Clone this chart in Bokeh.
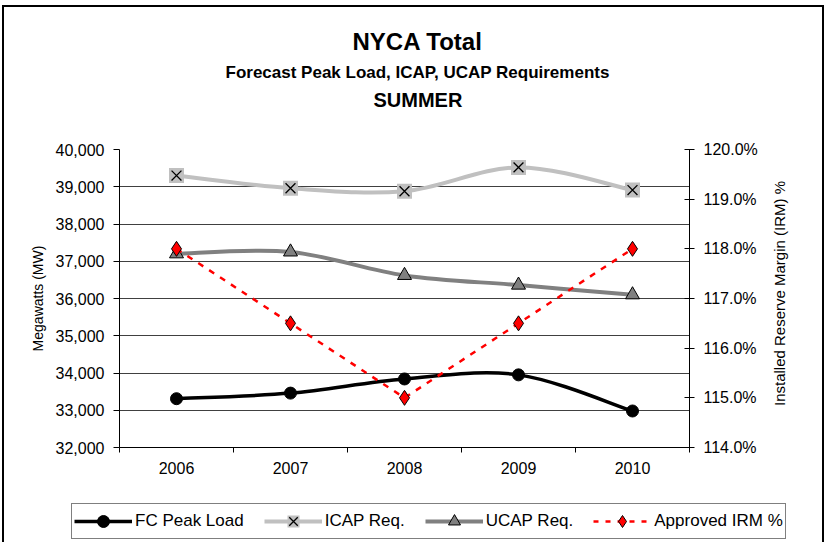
import math
from bokeh.plotting import figure
from bokeh.layouts import column, row
from bokeh.models import (Range1d, LinearAxis, FixedTicker, NumeralTickFormatter,
                          PrintfTickFormatter, Legend, LegendItem, Title, Label, ColumnDataSource)
from bokeh.embed import file_html
from bokeh.resources import INLINE

# ---- data ----
years = [2006, 2007, 2008, 2009, 2010]
fc_peak_load = [33310, 33460, 33840, 33950, 32980]
icap_req = [39300, 38960, 38880, 39520, 38910]
ucap_req = [37200, 37250, 36620, 36360, 36100]
approved_irm = [118.0, 116.5, 115.0, 116.5, 118.0]
mw_ticks = [32000, 33000, 34000, 35000, 36000, 37000, 38000, 39000, 40000]
irm_ticks = [114, 115, 116, 117, 118, 119, 120]
year_bounds = [2005.5, 2006.5, 2007.5, 2008.5, 2009.5, 2010.5]

title_main = "NYCA Total"
title_sub = "Forecast Peak Load, ICAP, UCAP Requirements"
title_season = "SUMMER"
series_names = ["FC Peak Load", "ICAP Req.", "UCAP Req.", "Approved IRM %"]
left_label = "Megawatts (MW)"
right_label = "Installed Reserve Margin (IRM) %"

FONT = "Liberation Sans"
ICAP_C = "#C0C0C0"
UCAP_C = "#808080"


def smooth_segments(xs, ys):
    """Bezier control points (Catmull-Rom style) like a spreadsheet 'smoothed line'."""
    n = len(xs)
    d = dict(x0=[], y0=[], x1=[], y1=[], cx0=[], cy0=[], cx1=[], cy1=[])
    for i in range(n - 1):
        a = i - 1 if i > 0 else i
        b = i + 2 if i + 2 < n else i + 1
        d["x0"].append(xs[i]); d["y0"].append(ys[i])
        d["x1"].append(xs[i + 1]); d["y1"].append(ys[i + 1])
        d["cx0"].append(xs[i] + (xs[i + 1] - xs[a]) / 6.0)
        d["cy0"].append(ys[i] + (ys[i + 1] - ys[a]) / 6.0)
        d["cx1"].append(xs[i + 1] - (xs[b] - xs[i]) / 6.0)
        d["cy1"].append(ys[i + 1] - (ys[b] - ys[i]) / 6.0)
    return ColumnDataSource(d)


p = figure(width=760, height=482, output_backend="svg", toolbar_location=None,
           x_range=Range1d(year_bounds[0], year_bounds[-1]),
           y_range=Range1d(mw_ticks[0], mw_ticks[-1]),
           min_border_left=114, min_border_right=76, min_border_top=141, min_border_bottom=43,
           outline_line_color=None, background_fill_color="white", border_fill_color="white")
p.frame_align = False

p.extra_y_ranges = {"irm": Range1d(irm_ticks[0], irm_ticks[-1])}

# x axis
xa = p.xaxis[0]
xa.ticker = FixedTicker(ticks=years, minor_ticks=year_bounds)
xa.major_tick_out = 0
xa.major_tick_in = 0
xa.minor_tick_out = 5
xa.minor_tick_in = 0
xa.minor_tick_line_color = "black"
xa.major_label_standoff = 9
xa.major_label_text_font = FONT
xa.major_label_text_font_size = "16px"
xa.major_label_text_color = "black"
xa.axis_line_color = "black"

# left axis
ya = p.yaxis[0]
ya.ticker = FixedTicker(ticks=mw_ticks)
ya.formatter = NumeralTickFormatter(format="0,0")
ya.major_tick_out = 6
ya.major_tick_in = 0
ya.minor_tick_out = 0
ya.minor_tick_in = 0
ya.major_label_standoff = 9
ya.major_label_text_font = FONT
ya.major_label_text_font_size = "16px"
ya.major_label_text_color = "black"
ya.axis_label = left_label
ya.axis_label_text_font = FONT
ya.axis_label_text_font_size = "14px"
ya.axis_label_text_font_style = "normal"
ya.axis_label_text_color = "black"
ya.axis_label_standoff = 7
ya.axis_line_color = "black"

# right axis (ticks + tick labels)
ra = LinearAxis(y_range_name="irm", ticker=FixedTicker(ticks=irm_ticks),
                formatter=PrintfTickFormatter(format="%.1f%%"))
ra.major_tick_out = 5
ra.major_tick_in = 5
ra.minor_tick_out = 0
ra.minor_tick_in = 0
ra.major_label_standoff = 9
ra.major_label_text_font = FONT
ra.major_label_text_font_size = "16px"
ra.major_label_text_color = "black"
ra.axis_line_color = "black"
p.add_layout(ra, "right")

# grid
p.xgrid.visible = False
p.ygrid.ticker = FixedTicker(ticks=mw_ticks)
p.ygrid.grid_line_color = "#404040"
p.ygrid.grid_line_width = 1

# ---- series ----
p.bezier(x0="x0", y0="y0", x1="x1", y1="y1", cx0="cx0", cy0="cy0", cx1="cx1", cy1="cy1",
         source=smooth_segments(years, icap_req), line_color=ICAP_C, line_width=4, line_cap="round")
p.scatter(years, icap_req, marker="square", size=15, fill_color=ICAP_C, line_color=None)
p.scatter(years, icap_req, marker="x", size=14, line_color="black", line_width=1.3)

p.bezier(x0="x0", y0="y0", x1="x1", y1="y1", cx0="cx0", cy0="cy0", cx1="cx1", cy1="cy1",
         source=smooth_segments(years, ucap_req), line_color=UCAP_C, line_width=4, line_cap="round")
p.scatter(years, ucap_req, marker="triangle", size=14, fill_color=UCAP_C,
          line_color="black", line_width=1)

p.bezier(x0="x0", y0="y0", x1="x1", y1="y1", cx0="cx0", cy0="cy0", cx1="cx1", cy1="cy1",
         source=smooth_segments(years, fc_peak_load), line_color="black", line_width=3.5, line_cap="round")
p.scatter(years, fc_peak_load, marker="circle", size=12, fill_color="black", line_color="black")

p.line(years, approved_irm, y_range_name="irm", line_color="red", line_width=2.5, line_dash="6 7")
p.scatter(years, approved_irm, y_range_name="irm", marker="diamond", size=15,
          fill_color="red", line_color="black", line_width=1)

# titles (stacked upward from the plot frame)
p.add_layout(Title(text=" ", text_font_size="10px", standoff=25), "above")
for txt, size, off, so in [(title_season, "20px", 254, 1),
                           (title_sub, "17px", 106, 10),
                           (title_main, "24px", 233, 1)]:
    p.add_layout(Title(text=txt, text_font=FONT, text_font_size=size, text_font_style="bold",
                       text_color="black", align="left", offset=off, standoff=so), "above")


def strip(width, height):
    f = figure(width=width, height=height, output_backend="svg", toolbar_location=None,
               x_range=Range1d(0, 1), y_range=Range1d(0, 1),
               x_axis_location=None, y_axis_location=None, min_border=0,
               min_border_left=0, min_border_right=0, min_border_top=0, min_border_bottom=0,
               outline_line_color=None, background_fill_color="white", border_fill_color="white")
    f.frame_align = False
    f.xgrid.visible = False
    f.ygrid.visible = False
    return f


# ---- right axis title strip ----
r = strip(56, 482)
r.add_layout(Label(x=14, y=197, x_units="screen", y_units="screen", text=right_label,
                   angle=math.pi / 2, text_align="center", text_baseline="middle",
                   text_font=FONT, text_font_size="15px", text_color="black"))

# ---- legend strip (separate figure under the chart) ----
q = strip(816, 52)
off = dict(x=[-5], y=[-5])  # legend-only renderers, placed outside the visible range
lg_fc = [q.line(line_color="black", line_width=3.5, **off),
         q.scatter(marker="circle", fill_color="black", line_color="black", **off)]
lg_icap = [q.line(line_color=ICAP_C, line_width=4, **off),
           q.scatter(marker="square", fill_color=ICAP_C, line_color=None, **off),
           q.scatter(marker="x", line_color="black", line_width=1.3, **off)]
lg_ucap = [q.line(line_color=UCAP_C, line_width=4, **off),
           q.scatter(marker="triangle", fill_color=UCAP_C, line_color="black", **off)]
lg_irm = [q.line(line_color="red", line_width=2.5, line_dash="5 7", **off),
          q.scatter(marker="diamond", fill_color="red", line_color="black", **off)]

legend = Legend(items=[LegendItem(label=n, renderers=rr) for n, rr in
                       zip(series_names, [lg_fc, lg_icap, lg_ucap, lg_irm])],
                orientation="horizontal", location=(66, 3))
legend.label_text_font = FONT
legend.label_text_font_size = "17px"
legend.label_text_color = "black"
legend.glyph_width = 58
legend.glyph_height = 30
legend.label_standoff = 3
legend.spacing = 20
legend.padding = 2
legend.margin = 0
legend.border_line_color = "black"
legend.border_line_width = 1
legend.background_fill_color = "white"
legend.background_fill_alpha = 1
q.add_layout(legend, "center")

layout = column(row(p, r, spacing=0), q, spacing=0, margin=(8, 0, 0, 5),
                styles={"outline": "2px solid black", "outline-offset": "1px"})

open("out.html", "w").write(file_html(layout, INLINE))
